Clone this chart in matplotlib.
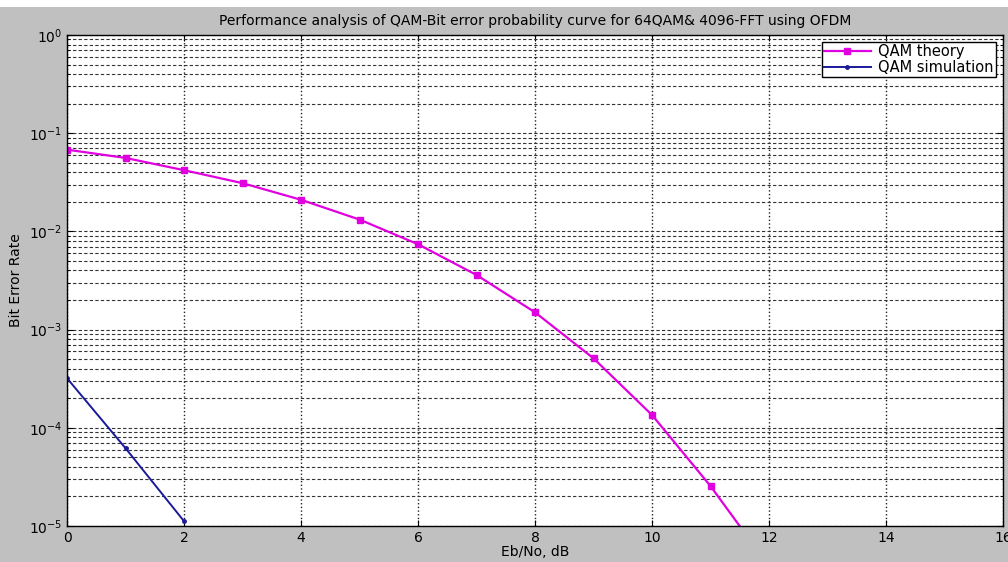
import numpy as np
import matplotlib.pyplot as plt
from matplotlib.patches import Rectangle
from matplotlib.ticker import LogLocator, NullFormatter

plt.rcParams['font.family'] = ['DejaVu Sans']

# BER curves, Eb/No in dB
ebno_theory = [0, 1, 2, 3, 4, 5, 6, 7, 8, 9, 10, 11, 12]
ber_theory = [0.068, 0.056, 0.042, 0.031, 0.021, 0.0132, 0.0074, 0.0036,
              0.0015, 0.00051, 0.000135, 2.55e-5, 3.9e-6]

ebno_sim = [0, 1, 2]
ber_sim = [3.2e-4, 6.2e-5, 1.12e-5]

title_txt = "Performance analysis of QAM-Bit error probability curve for 64QAM& 4096-FFT using OFDM"

fig = plt.figure(figsize=(10.08, 5.62), dpi=100, facecolor='white')
fig.patches.append(Rectangle((0, 0), 1, 1 - 7 / 562, transform=fig.transFigure,
                             facecolor='#c0c0c0', edgecolor='none', zorder=-10))
ax = fig.add_axes([67 / 1008, 1 - 526 / 562, (1003 - 67) / 1008, (526 - 35) / 562])
ax.set_facecolor('white')

ax.semilogy(ebno_theory, ber_theory, color='#e000e0', lw=1.6, marker='s', ms=5,
            mfc='#e000e0', mec='#e000e0', label='QAM theory')
ax.semilogy(ebno_sim, ber_sim, color='#1a1a9a', lw=1.4, marker='.', ms=5,
            label='QAM simulation')

ax.set_xlim(0, 16)
ax.set_ylim(1e-5, 1)
ax.set_xticks(np.arange(0, 17, 2))
ax.yaxis.set_major_locator(LogLocator(base=10, numticks=10))
ax.yaxis.set_minor_locator(LogLocator(base=10, subs=np.arange(2, 10), numticks=10))
ax.yaxis.set_minor_formatter(NullFormatter())

ax.grid(True, which='major', axis='x', color='#222222', ls=':', lw=1.0)
ax.grid(True, which='both', axis='y', color='#333333', ls=(0, (3, 2)), lw=0.8)

ax.tick_params(which='both', direction='in', top=True, right=True, labelsize=10)
ax.tick_params(which='major', length=4)
ax.tick_params(which='minor', length=2)
for s in ax.spines.values():
    s.set_linewidth(1.0)

ax.set_title(title_txt, fontsize=10, pad=7)
ax.set_xlabel('Eb/No, dB', fontsize=10, labelpad=0)
ax.set_ylabel('Bit Error Rate', fontsize=10, labelpad=4)

leg = ax.legend(loc='upper right', fontsize=10.5, fancybox=False, framealpha=1,
                edgecolor='black', borderaxespad=0.5, handlelength=3.2,
                borderpad=0.15, labelspacing=0.05, handletextpad=0.5)
leg.get_frame().set_linewidth(1.0)

fig.savefig('out.png', dpi=100, facecolor=fig.get_facecolor())
